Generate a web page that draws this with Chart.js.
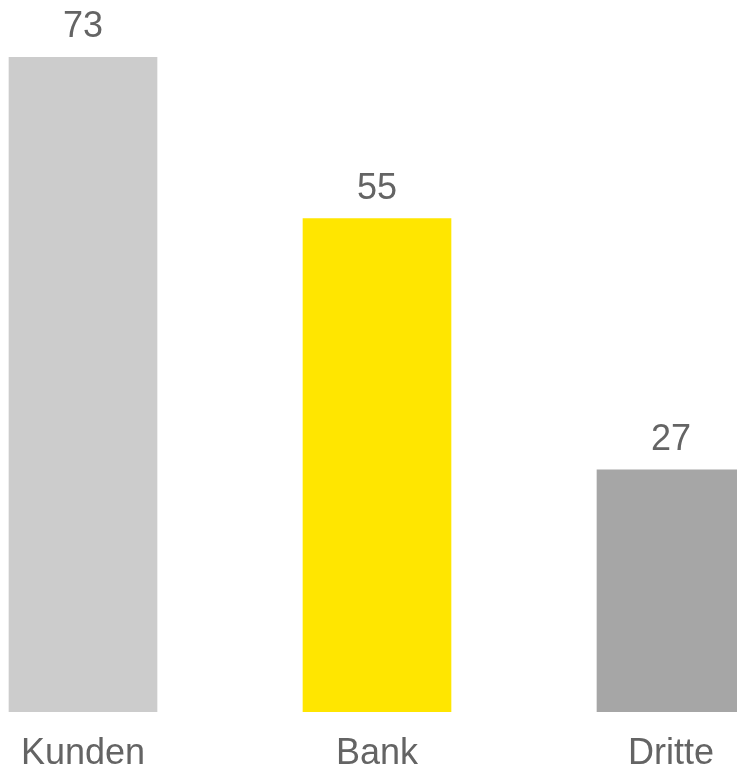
<!DOCTYPE html>
<html>
<head>
<meta charset="utf-8">
<script src="https://cdn.jsdelivr.net/npm/chart.js@4"></script>
<style>
  html, body { margin: 0; padding: 0; background: #fff; }
  #wrap { width: 737px; height: 766px; position: relative; }
</style>
</head>
<body>
<div id="wrap"><canvas id="barChart"></canvas></div>
<script>
// categories and values
const categories = ['Kunden', 'Bank', 'Dritte'];
const values = [73, 55, 27];
const barColors = ['#cccccc', '#ffe600', '#a6a6a6'];

const textColor = '#646464';
const fontFamily = '"Liberation Sans", Arial, sans-serif';

// value labels above each bar
const valueLabels = {
  id: 'valueLabels',
  afterDatasetsDraw(chart) {
    const ctx = chart.ctx;
    const meta = chart.getDatasetMeta(0);
    ctx.save();
    ctx.font = '36px ' + fontFamily;
    ctx.fillStyle = textColor;
    ctx.textAlign = 'center';
    ctx.textBaseline = 'alphabetic';
    meta.data.forEach((bar, i) => {
      ctx.fillText(String(values[i]), bar.x, bar.y - 20);
    });
    ctx.restore();
  }
};

const ctx = document.getElementById('barChart').getContext('2d');
new Chart(ctx, {
  type: 'bar',
  data: {
    datasets: [{
      data: values.map((v, i) => ({ x: i, y: v })),
      backgroundColor: barColors,
      barThickness: 148,
      borderWidth: 0
    }]
  },
  options: {
    responsive: true,
    maintainAspectRatio: false,
    animation: false,
    layout: { padding: { top: 57, left: 0, right: 0, bottom: 0 } },
    plugins: {
      legend: { display: false },
      tooltip: { enabled: false }
    },
    scales: {
      x: {
        type: 'linear',
        offset: false,
        min: -83 / 294,
        max: 654 / 294,
        grid: { display: false, drawTicks: false, offset: false },
        border: { display: false },
        afterBuildTicks: (scale) => {
          scale.ticks = categories.map((c, i) => ({ value: i }));
        },
        afterFit: (scale) => { scale.height = 54; },
        ticks: {
          padding: 20,
          autoSkip: false,
          maxRotation: 0,
          color: textColor,
          font: { size: 36, family: fontFamily },
          callback: (value) => categories[value]
        }
      },
      y: {
        display: false,
        min: 0,
        max: 73
      }
    }
  },
  plugins: [valueLabels]
});
</script>
</body>
</html>
